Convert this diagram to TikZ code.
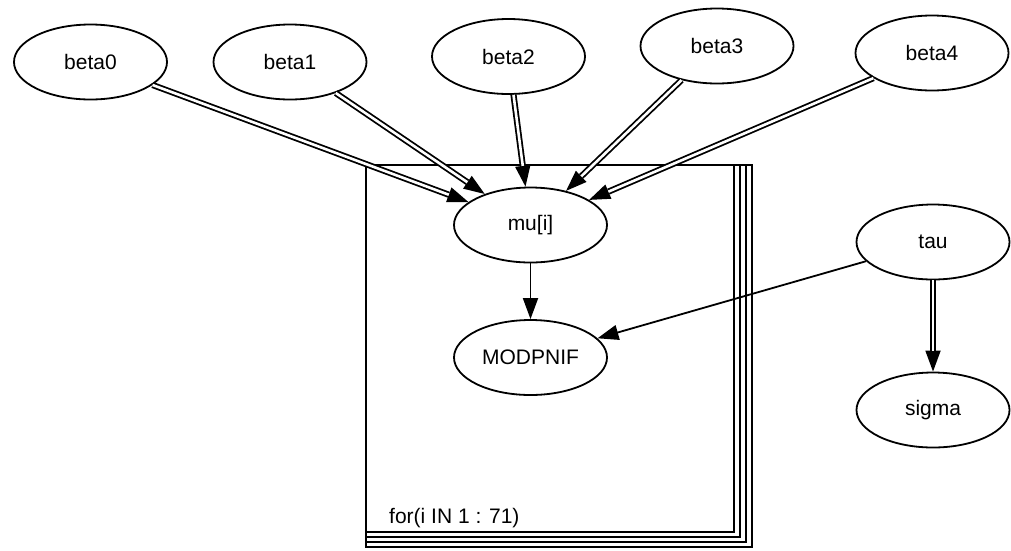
\documentclass[tikz,border=0pt]{standalone}
\usepackage{fontspec}
\setmainfont{Liberation Sans}
\usetikzlibrary{shapes.geometric,arrows.meta}

\tikzset{
  var/.style={ellipse, draw, line width=1.8pt, minimum width=153pt,
    minimum height=75pt, inner sep=0pt, font=\fontsize{21}{25}\selectfont},
  tipped/.style={line width=1.8pt, -{Triangle[length=21pt,width=15pt]}},
  dblline/.style={line width=1.8pt, double, double distance=2.6pt,
    shorten >=21pt},
  plate/.style={line width=1.8pt},
}
% deterministic link: a double line ending in a solid arrowhead
\newcommand\detlink[2]{%
  \draw[tipped] (#1) -- (#2);
  \draw[dblline] (#1) -- (#2);}

\begin{document}
\begin{tikzpicture}[x=1pt, y=-1pt]
\useasboundingbox (0,0) rectangle (1011,550);

% plate for the index i
\foreach \r/\b in {734/532, 740/537, 746/542, 752/547}
  \draw[plate] (366,165) rectangle (\r,\b);
\node[anchor=base west, font=\fontsize{21}{25}\selectfont, inner sep=0pt]
  (platelabel) at (389,523) {for(i IN 1 : 71)};

% variables
\node[var] (b0) at (90.5,62) {beta0};
\node[var] (b1) at (290,62) {beta1};
\node[var] (b2) at (508.5,56.5) {beta2};
\node[var] (b3) at (717,46) {beta3};
\node[var] (b4) at (932,53) {beta4};
\node[var] (mu) at (530.5,225) {mu[i]};
\node[var] (mod) at (530.5,357.5) {MODPNIF};
\node[var] (tau) at (933,242) {tau};
\node[var] (sigma) at (933,410) {sigma};

% links
\detlink{b0}{mu}
\detlink{b1}{mu}
\detlink{b2}{mu}
\detlink{b3}{mu}
\detlink{b4}{mu}
\detlink{tau}{sigma}
\draw[tipped] (mu) -- (mod);
\draw[tipped] (tau) -- (mod);
\end{tikzpicture}
\end{document}
